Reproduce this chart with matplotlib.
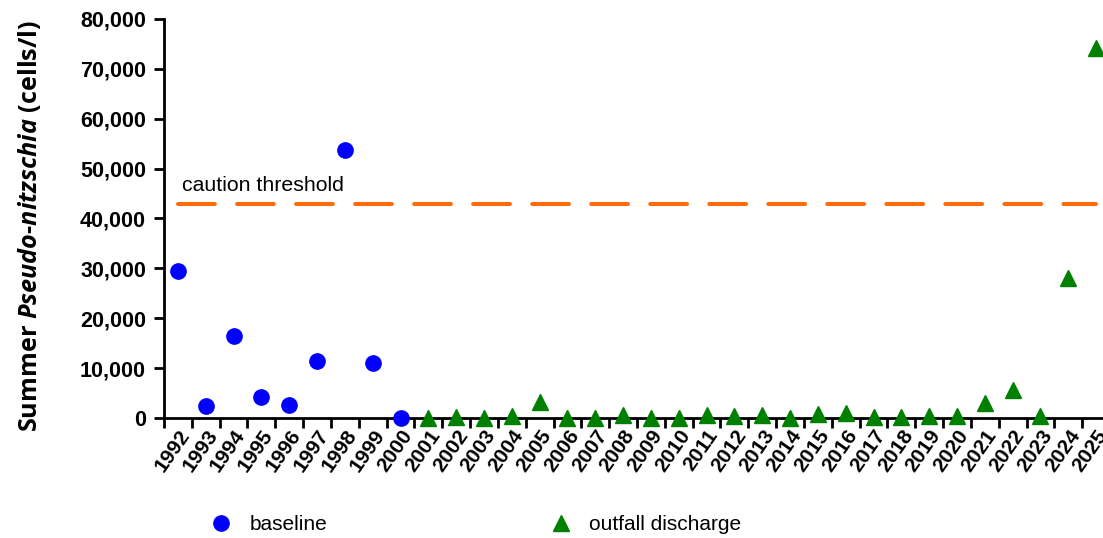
import matplotlib
matplotlib.use("Agg")
import matplotlib.pyplot as plt
import matplotlib.transforms as mtransforms
from matplotlib.lines import Line2D
from matplotlib.ticker import FuncFormatter, FixedLocator

years = list(range(1992, 2026))
baseline_years = list(range(1992, 2001))
baseline_vals = [29500, 2400, 16400, 4200, 2600, 11400, 53700, 11000, 100]
outfall_years = list(range(2001, 2026))
outfall_vals = [100, 200, 0, 400, 3300, 0, 0, 600, 0, 100, 600, 400, 600, 0,
                900, 1000, 300, 300, 500, 400, 3000, 5700, 500, 28000, 74200]
threshold = 43000
threshold_label = "caution threshold"

plt.rcParams['font.family'] = ['Liberation Sans', 'DejaVu Sans']
plt.rcParams['lines.scale_dashes'] = False
plt.rcParams['mathtext.fontset'] = 'custom'
plt.rcParams['mathtext.it'] = 'Open Sans:bold:italic'
plt.rcParams['mathtext.rm'] = 'Open Sans:bold'
plt.rcParams['mathtext.bf'] = 'Open Sans:bold'

fig = plt.figure(figsize=(11.03, 5.38), dpi=100)
ax = fig.add_axes([164/1103, 120/538, (1110-164)/1103, (418-19)/538])

idx = {y: i for i, y in enumerate(years)}
bx = [idx[y] for y in baseline_years]
ox = [idx[y] for y in outfall_years]

ax.plot([0, len(years) - 1], [threshold, threshold], color='#FF6A0A', lw=2.9,
        dashes=(26.5, 16), dash_capstyle='round', zorder=2)
ax.plot(bx, baseline_vals, 'o', color='#0000FF', ms=11, mec='#0000FF', zorder=3,
        clip_on=False, label='baseline')
ax.plot(ox, outfall_vals, '^', color='#008000', ms=11, mec='#008000', zorder=3,
        clip_on=False, label='outfall discharge')

ax.text(0.15, 45600, threshold_label, fontsize=15.3, va='baseline', ha='left')

ax.set_xlim(-0.5, len(years) - 0.5)
ax.set_ylim(0, 80000)
ax.set_yticks(range(0, 80001, 10000))
ax.yaxis.set_major_formatter(FuncFormatter(lambda v, p: f"{int(v):,}"))

ax.xaxis.set_major_locator(FixedLocator([i - 0.5 for i in range(len(years) + 1)]))
ax.xaxis.set_major_formatter(FuncFormatter(lambda v, p: ""))
ax.set_xticks(range(len(years)), minor=True)
ax.set_xticklabels([str(y) for y in years], minor=True, rotation=55,
                   ha='right', va='top', rotation_mode='anchor',
                   fontsize=15, fontweight='bold')
shift = mtransforms.ScaledTranslation(-5/100, 0, fig.dpi_scale_trans)
for lab in ax.get_xticklabels(minor=True):
    lab.set_transform(lab.get_transform() + shift)
ax.tick_params(axis='x', which='minor', length=0, pad=6)
ax.tick_params(axis='x', which='major', length=7, width=2, direction='out')
ax.tick_params(axis='y', length=7, width=2, direction='out', labelsize=15.5, pad=6)
for lab in ax.get_yticklabels():
    lab.set_fontweight('bold')

for s in ['top', 'right']:
    ax.spines[s].set_visible(False)
for s in ['left', 'bottom']:
    ax.spines[s].set_linewidth(2)

ax.set_ylabel(r"Summer $\mathit{Pseudo}$-$\mathit{nitzschia}$ (cells/l)",
              family='Open Sans', fontweight='bold', fontsize=18.2)
ax.yaxis.set_label_coords(-0.128, 0.481)

handles = [Line2D([], [], ls='none', marker='o', ms=11, color='#0000FF'),
           Line2D([], [], ls='none', marker='^', ms=11, color='#008000')]
fig.legend(handles, ['baseline', 'outfall discharge'], ncol=2, frameon=False,
           loc='center', bbox_to_anchor=(476/1103, 13/538), fontsize=15,
           handlelength=1, handletextpad=0.85, columnspacing=10.7,
           borderaxespad=0, borderpad=0)

fig.savefig('out.png', dpi=100)
